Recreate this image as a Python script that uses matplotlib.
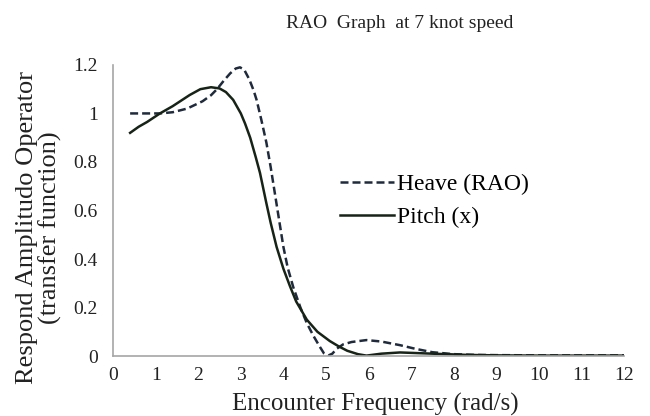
import matplotlib
matplotlib.use("Agg")
import matplotlib.pyplot as plt

# values
heave_x = [0.4, 0.8, 1.1, 1.4, 1.74, 2.1, 2.3, 2.44, 2.6, 2.75, 2.88, 2.98, 3.08, 3.2,
           3.3, 3.37, 3.48, 3.6, 3.7, 3.8, 3.9, 4.0, 4.1, 4.23, 4.4, 4.55, 4.7, 4.85,
           4.95, 5.05, 5.15, 5.25, 5.4, 5.6, 5.95, 6.3, 6.74, 7.1, 7.5, 8.0, 8.5, 9, 10,
           11, 12]
heave_y = [1.0, 1.0, 1.0, 1.005, 1.02, 1.05, 1.075, 1.10, 1.135, 1.165, 1.185, 1.19,
           1.18, 1.14, 1.095, 1.056, 0.975, 0.88, 0.78, 0.67, 0.56, 0.45, 0.365, 0.285,
           0.2, 0.136, 0.085, 0.04, 0.012, 0.002, 0.01, 0.03, 0.048, 0.058, 0.066, 0.06,
           0.045, 0.03, 0.016, 0.008, 0.005, 0.004, 0.003, 0.003, 0.003]

pitch_x = [0.4, 0.6, 0.8, 1.1, 1.4, 1.8, 2.05, 2.3, 2.5, 2.65, 2.82, 3.0, 3.1, 3.22,
           3.35, 3.45, 3.6, 3.7, 3.84, 4.0, 4.15, 4.3, 4.55, 4.8, 5.09, 5.3, 5.5, 5.75,
           5.95, 6.3, 6.74, 7.5, 8.3, 9, 10, 11, 12]
pitch_y = [0.92, 0.945, 0.965, 1.0, 1.03, 1.076, 1.10, 1.108, 1.103, 1.088, 1.056, 1.0,
           0.958, 0.90, 0.82, 0.755, 0.63, 0.55, 0.45, 0.36, 0.29, 0.225, 0.15, 0.1,
           0.062, 0.04, 0.022, 0.008, 0.002, 0.01, 0.015, 0.01, 0.005, 0.003, 0.002,
           0.002, 0.002]

x_ticks = list(range(0, 13))
y_ticks = [0, 0.2, 0.4, 0.6, 0.8, 1, 1.2]
y_tick_labels = ["0", "0.2", "0.4", "0.6", "0.8", "1", "1.2"]

plt.rcParams['font.family'] = ['Liberation Serif', 'DejaVu Serif']
txt = '#222222'

fig = plt.figure(figsize=(6.5, 4.16), dpi=100)
ax = fig.add_axes([0.174, 0.144, 0.786, 0.700])

ax.plot(heave_x, heave_y, color='#1f2b3c', lw=1.8, dashes=(3.2, 1.6), label='Heave (RAO)')
ax.plot(pitch_x, pitch_y, color='#162316', lw=1.8, label='Pitch (x)')

ax.set_xlim(0, 12)
ax.set_ylim(0, 1.2)
ax.set_xticks(x_ticks)
ax.set_yticks(y_ticks)
ax.set_yticklabels(y_tick_labels)
ax.tick_params(length=0, labelsize=14, colors=txt)
ax.tick_params(axis='x', pad=8)
ax.tick_params(axis='y', pad=11)

for s in ['top', 'right']:
    ax.spines[s].set_visible(False)
for s in ['left', 'bottom']:
    ax.spines[s].set_color('#a6a6a6')
    ax.spines[s].set_linewidth(1.2)

fig.text(0.615, 1 - 23 / 416, 'RAO  Graph  at 7 knot speed', fontsize=14,
         ha='center', va='center', color=txt)
fig.text(375 / 650, 1 - 404 / 416, 'Encounter Frequency (rad/s)', fontsize=18,
         ha='center', va='center', color=txt)
fig.text(39 / 650, 1 - 228 / 416, 'Respond Amplitudo Operator\n(transfer function)',
         fontsize=19, rotation=90, ha='center', va='center', color=txt,
         linespacing=1.02, multialignment='center')

ax.legend(loc='center left', bbox_to_anchor=(340 / 650, 1 - 201 / 416),
          bbox_transform=fig.transFigure, frameon=False, fontsize=17,
          handlelength=2.3, handletextpad=0.12, labelspacing=0.5,
          borderpad=0, borderaxespad=0)

fig.savefig('out.png', dpi=100)
